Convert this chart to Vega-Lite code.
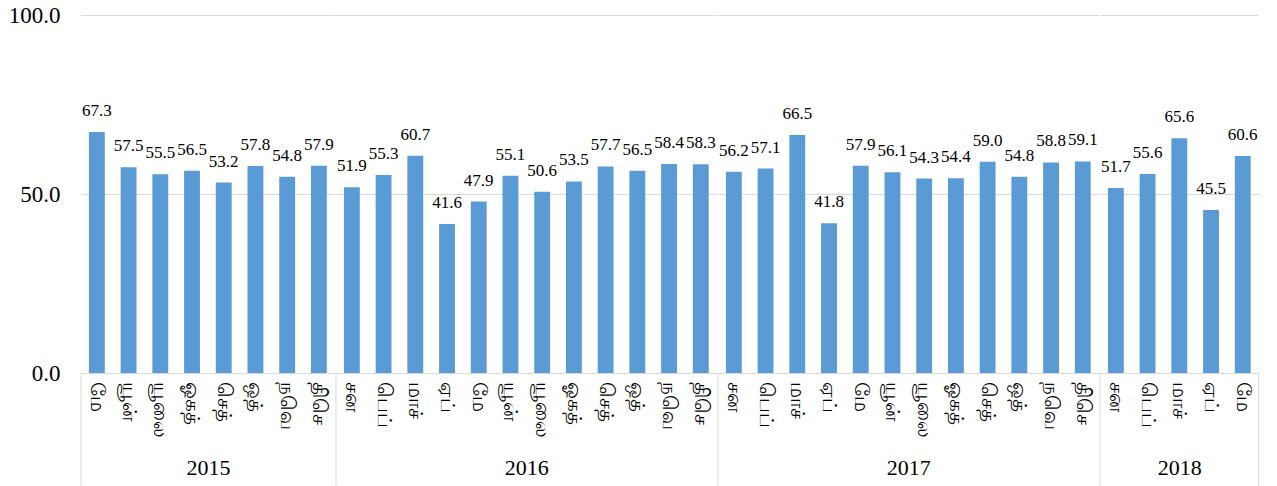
{
  "$schema": "https://vega.github.io/schema/vega-lite/v6.json",
  "padding": {"left": 8, "top": 4, "right": 0, "bottom": 0},
  "autosize": {"type": "pad"},
  "background": "white",
  "config": {
    "view": {"stroke": null},
    "concat": {"spacing": 0},
    "text": {"font": "Liberation Serif"}
  },
  "datasets": {
    "d": [
      {"year": 2015, "m": "மே", "v": 67.3},
      {"year": 2015, "m": "யூன்", "v": 57.5},
      {"year": 2015, "m": "யூலை", "v": 55.5},
      {"year": 2015, "m": "ஓகத்", "v": 56.5},
      {"year": 2015, "m": "செத்", "v": 53.2},
      {"year": 2015, "m": "ஒத்", "v": 57.8},
      {"year": 2015, "m": "நவெ", "v": 54.8},
      {"year": 2015, "m": "திசெ", "v": 57.9},
      {"year": 2016, "m": "சன", "v": 51.9},
      {"year": 2016, "m": "பெப்", "v": 55.3},
      {"year": 2016, "m": "மாச்", "v": 60.7},
      {"year": 2016, "m": "ஏப்", "v": 41.6},
      {"year": 2016, "m": "மே", "v": 47.9},
      {"year": 2016, "m": "யூன்", "v": 55.1},
      {"year": 2016, "m": "யூலை", "v": 50.6},
      {"year": 2016, "m": "ஓகத்", "v": 53.5},
      {"year": 2016, "m": "செத்", "v": 57.7},
      {"year": 2016, "m": "ஒத்", "v": 56.5},
      {"year": 2016, "m": "நவெ", "v": 58.4},
      {"year": 2016, "m": "திசெ", "v": 58.3},
      {"year": 2017, "m": "சன", "v": 56.2},
      {"year": 2017, "m": "பெப்", "v": 57.1},
      {"year": 2017, "m": "மாச்", "v": 66.5},
      {"year": 2017, "m": "ஏப்", "v": 41.8},
      {"year": 2017, "m": "மே", "v": 57.9},
      {"year": 2017, "m": "யூன்", "v": 56.1},
      {"year": 2017, "m": "யூலை", "v": 54.3},
      {"year": 2017, "m": "ஓகத்", "v": 54.4},
      {"year": 2017, "m": "செத்", "v": 59.0},
      {"year": 2017, "m": "ஒத்", "v": 54.8},
      {"year": 2017, "m": "நவெ", "v": 58.8},
      {"year": 2017, "m": "திசெ", "v": 59.1},
      {"year": 2018, "m": "சன", "v": 51.7},
      {"year": 2018, "m": "பெப்", "v": 55.6},
      {"year": 2018, "m": "மாச்", "v": 65.6},
      {"year": 2018, "m": "ஏப்", "v": 45.5},
      {"year": 2018, "m": "மே", "v": 60.6}
    ]
  },
  "hconcat": [
    {
      "width": 253.76, "height": 358,
      "data": {"name": "d"},
      "transform": [{"filter": "datum.year == 2015"}],
      "encoding": {
        "x": {"field": "m", "type": "nominal", "sort": null, "scale": {"paddingInner": 0, "paddingOuter": 0},
              "axis": {"title": "2015", "titleFont": "Liberation Serif", "titleFontSize": 22, "titleFontWeight": "normal", "titleColor": "#000", "titleY": 101, "titleBaseline": "alphabetic", "labelAngle": 90, "labelFontSize": 20, "labelColor": "#000", "labelPadding": 8, "ticks": false, "tickSize": 0, "domainColor": "#d9d9d9", "grid": false}},
        "y": {"field": "v", "type": "quantitative", "scale": {"domain": [0, 100], "nice": false},
              "axis": {"values": [0, 50, 100], "format": ".1f", "labelFont": "Liberation Serif", "labelFontSize": 23, "labelColor": "#000", "labelPadding": 21, "ticks": false, "tickSize": 0, "domain": false, "grid": true, "gridColor": "#d9d9d9", "title": null}}
      },
      "layer": [
        {"mark": {"type": "bar", "color": "#5B9BD5", "width": {"band": 0.5}}},
        {"mark": {"type": "text", "dy": -16, "baseline": "alphabetic", "font": "Liberation Serif", "fontSize": 17, "color": "#000"},
         "encoding": {"text": {"field": "v", "type": "quantitative", "format": ".1f"}}},
        {"transform": [{"filter": "datum.m == 'மே'"}],
         "mark": {"type": "rule", "color": "#d9d9d9", "strokeWidth": 1},
         "encoding": {"x": {"field": "m", "type": "nominal", "sort": null, "bandPosition": 0}, "y": {"datum": 0}, "y2": {"datum": -31.5}}}
      ]
    },
    {
      "width": 380.64, "height": 358,
      "data": {"name": "d"},
      "transform": [{"filter": "datum.year == 2016"}],
      "encoding": {
        "x": {"field": "m", "type": "nominal", "sort": null, "scale": {"paddingInner": 0, "paddingOuter": 0},
              "axis": {"title": "2016", "titleFont": "Liberation Serif", "titleFontSize": 22, "titleFontWeight": "normal", "titleColor": "#000", "titleY": 101, "titleBaseline": "alphabetic", "labelAngle": 90, "labelFontSize": 20, "labelColor": "#000", "labelPadding": 8, "ticks": false, "tickSize": 0, "domainColor": "#d9d9d9", "grid": false}},
        "y": {"field": "v", "type": "quantitative", "scale": {"domain": [0, 100], "nice": false},
              "axis": {"values": [0, 50, 100], "labels": false, "ticks": false, "tickSize": 0, "domain": false, "grid": true, "gridColor": "#d9d9d9", "title": null}}
      },
      "layer": [
        {"mark": {"type": "bar", "color": "#5B9BD5", "width": {"band": 0.5}}},
        {"mark": {"type": "text", "dy": -16, "baseline": "alphabetic", "font": "Liberation Serif", "fontSize": 17, "color": "#000"},
         "encoding": {"text": {"field": "v", "type": "quantitative", "format": ".1f"}}},
        {"transform": [{"filter": "datum.m == 'சன'"}],
         "mark": {"type": "rule", "color": "#d9d9d9", "strokeWidth": 1},
         "encoding": {"x": {"field": "m", "type": "nominal", "sort": null, "bandPosition": 0}, "y": {"datum": 0}, "y2": {"datum": -31.5}}}
      ]
    },
    {
      "width": 380.64, "height": 358,
      "data": {"name": "d"},
      "transform": [{"filter": "datum.year == 2017"}],
      "encoding": {
        "x": {"field": "m", "type": "nominal", "sort": null, "scale": {"paddingInner": 0, "paddingOuter": 0},
              "axis": {"title": "2017", "titleFont": "Liberation Serif", "titleFontSize": 22, "titleFontWeight": "normal", "titleColor": "#000", "titleY": 101, "titleBaseline": "alphabetic", "labelAngle": 90, "labelFontSize": 20, "labelColor": "#000", "labelPadding": 8, "ticks": false, "tickSize": 0, "domainColor": "#d9d9d9", "grid": false}},
        "y": {"field": "v", "type": "quantitative", "scale": {"domain": [0, 100], "nice": false},
              "axis": {"values": [0, 50, 100], "labels": false, "ticks": false, "tickSize": 0, "domain": false, "grid": true, "gridColor": "#d9d9d9", "title": null}}
      },
      "layer": [
        {"mark": {"type": "bar", "color": "#5B9BD5", "width": {"band": 0.5}}},
        {"mark": {"type": "text", "dy": -16, "baseline": "alphabetic", "font": "Liberation Serif", "fontSize": 17, "color": "#000"},
         "encoding": {"text": {"field": "v", "type": "quantitative", "format": ".1f"}}},
        {"transform": [{"filter": "datum.m == 'சன'"}],
         "mark": {"type": "rule", "color": "#d9d9d9", "strokeWidth": 1},
         "encoding": {"x": {"field": "m", "type": "nominal", "sort": null, "bandPosition": 0}, "y": {"datum": 0}, "y2": {"datum": -31.5}}}
      ]
    },
    {
      "width": 158.6, "height": 358,
      "data": {"name": "d"},
      "transform": [{"filter": "datum.year == 2018"}],
      "encoding": {
        "x": {"field": "m", "type": "nominal", "sort": null, "scale": {"paddingInner": 0, "paddingOuter": 0},
              "axis": {"title": "2018", "titleFont": "Liberation Serif", "titleFontSize": 22, "titleFontWeight": "normal", "titleColor": "#000", "titleY": 101, "titleBaseline": "alphabetic", "labelAngle": 90, "labelFontSize": 20, "labelColor": "#000", "labelPadding": 8, "ticks": false, "tickSize": 0, "domainColor": "#d9d9d9", "grid": false}},
        "y": {"field": "v", "type": "quantitative", "scale": {"domain": [0, 100], "nice": false},
              "axis": {"values": [0, 50, 100], "labels": false, "ticks": false, "tickSize": 0, "domain": false, "grid": true, "gridColor": "#d9d9d9", "title": null}}
      },
      "layer": [
        {"mark": {"type": "bar", "color": "#5B9BD5", "width": {"band": 0.5}}},
        {"mark": {"type": "text", "dy": -16, "baseline": "alphabetic", "font": "Liberation Serif", "fontSize": 17, "color": "#000"},
         "encoding": {"text": {"field": "v", "type": "quantitative", "format": ".1f"}}},
        {"transform": [{"filter": "datum.m == 'சன'"}],
         "mark": {"type": "rule", "color": "#d9d9d9", "strokeWidth": 1},
         "encoding": {"x": {"field": "m", "type": "nominal", "sort": null, "bandPosition": 0}, "y": {"datum": 0}, "y2": {"datum": -31.5}}},
        {"transform": [{"filter": "datum.m == 'மே'"}],
         "mark": {"type": "rule", "color": "#d9d9d9", "strokeWidth": 1},
         "encoding": {"x": {"field": "m", "type": "nominal", "sort": null, "bandPosition": 1}, "y": {"datum": 0}, "y2": {"datum": -31.5}}}
      ]
    }
  ]
}
